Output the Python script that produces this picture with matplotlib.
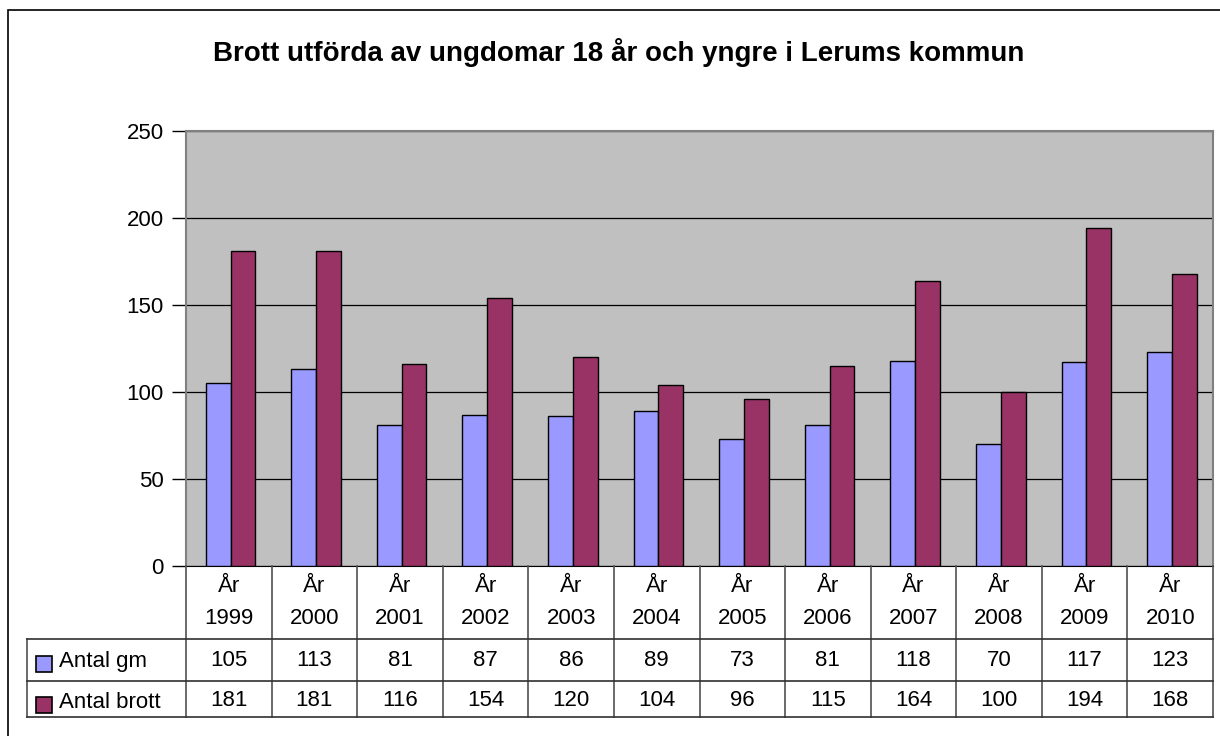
import numpy as np
import matplotlib
matplotlib.use('Agg')
from matplotlib import pyplot as plt
from matplotlib import transforms
from matplotlib.lines import Line2D
from matplotlib.patches import Rectangle

plt.rcParams['font.family'] = ['Liberation Sans', 'DejaVu Sans']

years = ['1999', '2000', '2001', '2002', '2003', '2004',
         '2005', '2006', '2007', '2008', '2009', '2010']
antal_gm = [105, 113, 81, 87, 86, 89, 73, 81, 118, 70, 117, 123]
antal_brott = [181, 181, 116, 154, 120, 104, 96, 115, 164, 100, 194, 168]
series_names = ['Antal gm', 'Antal brott']
colors = ['#9999FF', '#993366']
title = 'Brott utförda av ungdomar 18 år och yngre i Lerums kommun'

W, H = 1220, 736
fig = plt.figure(figsize=(W / 100, H / 100), dpi=100)

def fy(py):
    return 1 - py / H

def fx(px):
    return px / W

# outer chart border
fig.add_artist(Rectangle((fx(8), fy(740)), fx(1230) - fx(8), fy(10) - fy(740),
                         transform=fig.transFigure, fill=False, ec='black', lw=1.2))

ax = fig.add_axes([fx(186), fy(566), fx(1213) - fx(186), fy(131) - fy(566)])
ax.set_facecolor('#C0C0C0')

x = np.arange(len(years))
bw = 0.29
ax.bar(x - bw / 2 + 0.02, antal_gm, bw, color=colors[0], edgecolor='black', lw=1.0, zorder=3)
ax.bar(x + bw / 2 + 0.02, antal_brott, bw, color=colors[1], edgecolor='black', lw=1.0, zorder=3)

ax.set_xlim(-0.5, len(years) - 0.5)
ax.set_ylim(0, 250)
ax.set_yticks([0, 50, 100, 150, 200, 250])
ax.tick_params(axis='y', labelsize=16, length=10, width=1, direction='out', pad=6)
ax.set_xticks([])
ax.yaxis.grid(True, color='black', lw=0.9, zorder=1)
ax.set_axisbelow(True)
for s in ['top', 'right', 'left']:
    ax.spines[s].set_color('#808080')
    ax.spines[s].set_linewidth(1.5)
ax.spines['bottom'].set_color('black')

fig.text(fx(619), fy(61), title, ha='center', va='baseline',
         fontsize=20, fontweight='bold')

# data table below the axis
bt = transforms.blended_transform_factory(ax.transData, fig.transFigure)
for b in np.arange(len(years) + 1) - 0.5:
    fig.add_artist(Line2D([b, b], [fy(566), fy(717)], transform=bt, color='#505050', lw=1.2))
fig.add_artist(Line2D([fx(27), fx(27)], [fy(639), fy(717)], transform=fig.transFigure,
                      color='#505050', lw=1.2))
for ry in [639, 681, 717]:
    fig.add_artist(Line2D([fx(27), fx(1213)], [fy(ry), fy(ry)], transform=fig.transFigure,
                          color='#303030', lw=1.2))

for i, yr in enumerate(years):
    ax.text(i, fy(587), 'År', transform=bt, ha='center', va='center', fontsize=16)
    ax.text(i, fy(618), yr, transform=bt, ha='center', va='center', fontsize=16)
    ax.text(i, fy(661), str(antal_gm[i]), transform=bt, ha='center', va='center', fontsize=16)
    ax.text(i, fy(700), str(antal_brott[i]), transform=bt, ha='center', va='center', fontsize=16)

for j, (name, c) in enumerate(zip(series_names, colors)):
    cy = [664, 705][j]
    fig.add_artist(Rectangle((fx(36), fy(cy + 8)), fx(16), fy(0) - fy(16),
                             transform=fig.transFigure, fc=c, ec='black', lw=1.2))
    fig.text(fx(59), fy(cy - 3), name, ha='left', va='center', fontsize=16)

fig.savefig('out.png', dpi=100)
